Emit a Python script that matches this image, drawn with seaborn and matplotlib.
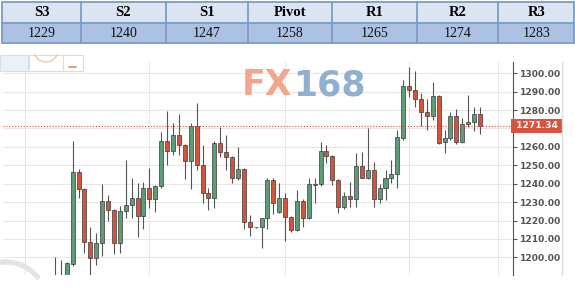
import numpy as np
import pandas as pd
import matplotlib
matplotlib.use("Agg")
import matplotlib.pyplot as plt
import seaborn as sns
from matplotlib.patches import Rectangle, Arc
import matplotlib.transforms as mtransforms

# ---- data ----
levels = ["S3", "S2", "S1", "Pivot", "R1", "R2", "R3"]
level_values = [1229, 1240, 1247, 1258, 1265, 1274, 1283]

opens = [1183, 1186, 1189, 1196.4, 1246.2, 1237, 1208.2, 1199.5, 1208, 1230.6,
         1225.7, 1207.6, 1225, 1228.3, 1232.4, 1222.3, 1237.8, 1231.7, 1238.9, 1263.4,
         1257.9, 1266.5, 1261, 1252.3, 1271.5, 1250.2, 1234.8, 1232.1, 1262, 1257.1,
         1254.3, 1242.9, 1248, 1219.3, 1216.3, 1216.3, 1221.2, 1242, 1224.5, 1232.1,
         1221.7, 1214.8, 1230.8, 1221.5, 1239.3, 1239.7, 1257.8, 1255.1, 1242, 1227.2,
         1233.3, 1231.5, 1249.6, 1243.3, 1247.4, 1231.7, 1237.5, 1242.9, 1245.3, 1265,
         1293.1, 1290.9, 1285.9, 1279.1, 1277, 1287.7, 1262.8, 1264.7, 1276.5, 1262.8,
         1272.4, 1273.4, 1277.9]
highs = [1200.3, 1198.5, 1197.5, 1263.2, 1247.8, 1237.5, 1216.3, 1213.4, 1239.7, 1233.9,
         1226.2, 1227.9, 1252.9, 1242.9, 1240.2, 1240.8, 1248.4, 1239.5, 1267.9, 1279.5,
         1272.8, 1277.7, 1261.5, 1273, 1284, 1261, 1237.7, 1263.2, 1271, 1266.5,
         1255, 1260.1, 1248.5, 1223, 1216.6, 1221.5, 1243.3, 1243.3, 1240.2, 1234.8,
         1222.2, 1236.6, 1231.5, 1242.9, 1242.9, 1262.5, 1261, 1255.5, 1242.3, 1235.7,
         1241.1, 1256.5, 1257.4, 1270.1, 1252, 1240, 1247.4, 1252.9, 1269.2, 1296.4,
         1303.6, 1301.4, 1289.5, 1285.9, 1295.1, 1288, 1269.2, 1278.8, 1280.6, 1275.6,
         1288.2, 1281.5, 1281.5]
lows = [1178, 1180, 1185, 1195.5, 1232.4, 1202.2, 1189, 1195.8, 1200.9, 1219.9,
        1201.6, 1202.2, 1221.5, 1221.2, 1211.2, 1215.4, 1227, 1224.8, 1237.5, 1250.2,
        1255.6, 1255.6, 1242.6, 1237.1, 1247.4, 1229.3, 1225.7, 1226.6, 1254.7, 1247.4,
        1240.2, 1242, 1215.4, 1211.7, 1216.0, 1205.2, 1215.4, 1223.4, 1223.9, 1209,
        1214, 1214.5, 1216.6, 1221, 1229.3, 1239, 1251.1, 1239.3, 1223.9, 1226,
        1227.5, 1227.5, 1243, 1242.5, 1227.2, 1229.5, 1231.1, 1240.4, 1237.6, 1263.5,
        1287.3, 1281.8, 1271.5, 1269.2, 1274.6, 1261.4, 1256.5, 1263.7, 1261.4, 1262,
        1271, 1268.6, 1266.8]
closes = [1186, 1189, 1196.7, 1246.2, 1237, 1208.2, 1199.5, 1208, 1230.6, 1225.7,
          1208, 1225, 1228.3, 1232.4, 1222.3, 1237.8, 1231.7, 1238.9, 1263.4, 1257.9,
          1266.5, 1261, 1252.3, 1271.5, 1250.2, 1234.8, 1232.1, 1262, 1257.1, 1254.3,
          1242.9, 1248, 1219.3, 1216.3, 1216.3, 1221.2, 1242, 1229.3, 1232.1, 1221.7,
          1214.8, 1230.8, 1221.5, 1239.7, 1239.7, 1257.8, 1255.1, 1242, 1227.2, 1233.3,
          1231.5, 1249.6, 1243.3, 1247.4, 1231.7, 1237.5, 1242.9, 1245.3, 1265.2, 1293.1,
          1290.9, 1285.9, 1279.1, 1277, 1287.7, 1262, 1264.7, 1276.5, 1262.5, 1272.4,
          1273.4, 1277.9, 1271.34]
last_price = 1271.34
price_ticks = [1200, 1210, 1220, 1230, 1240, 1250, 1260, 1270, 1280, 1290, 1300]
hidden_tick = 1270          # label covered by the last-price tag in the reference
session_breaks = [-5, 16, 39, 60, 75]
watermark_left = "FX"
watermark_right = "168"

df = pd.DataFrame({"open": opens, "high": highs, "low": lows, "close": closes})
df["idx"] = np.arange(len(df))
df["up"] = df["close"] >= df["open"]

# ---- style ----
sns.set_theme(style="white")
plt.rcParams["font.family"] = ["DejaVu Sans"]

W, H = 575, 288
fig = plt.figure(figsize=(W / 100, H / 100), dpi=100)
fig.patch.set_facecolor("white")

# chart axes in pixel layout
x0, x1, y0, y1 = 3, 513, 62, 275
ax = fig.add_axes([x0 / W, 1 - y1 / H, (x1 - x0) / W, (y1 - y0) / H])
ax.set_facecolor("white")
ax.set_xlim(-8.8, 77.6)
ax.set_ylim(1190.4, 1306.1)

GREEN = "#5e9c78"
RED = "#d4533d"
EDGE = "#3a3a3a"
WICK = "#555555"

ax.vlines(df["idx"], df["low"], df["high"], color=WICK, lw=0.8, zorder=2)
bottoms = np.minimum(df["open"], df["close"])
heights = np.maximum(np.abs(df["close"] - df["open"]), 0.35)
colors = [GREEN if u else RED for u in df["up"]]
ax.bar(df["idx"], heights, bottom=bottoms, width=0.68, color=colors,
       edgecolor=EDGE, linewidth=0.5, zorder=3)

ax.axhline(last_price, color="#c9503f", lw=0.8, ls=(0, (1, 1.6)), zorder=4)

ax.set_yticks(price_ticks)
ax.set_yticklabels(["" if t == hidden_tick else f"{t:.2f}" for t in price_ticks])
ax.set_xticks(session_breaks)
ax.grid(True, color="#e6e6e6", lw=0.8)
ax.set_axisbelow(True)
ax.tick_params(axis="x", length=0, labelbottom=False)
ax.yaxis.tick_right()
ax.tick_params(axis="y", which="both", right=True, left=False, length=3, width=0.8,
               color="#555555", labelcolor="#555555", labelsize=6.6, pad=2)
for lbl in ax.get_yticklabels():
    lbl.set_fontweight("bold")
for s in ["left", "top", "bottom"]:
    ax.spines[s].set_visible(False)
ax.spines["right"].set_color("#555555")
ax.spines["right"].set_linewidth(0.8)

trans = mtransforms.blended_transform_factory(ax.transAxes, ax.transData)
ax.text(1.0, last_price, " 1271.34 ", transform=trans, ha="left", va="center",
        color="white", fontsize=6.6, fontweight="bold", zorder=6,
        bbox=dict(boxstyle="square,pad=0.25", fc="#d9533f", ec="none"))

# ---- overlay (pixel coordinates) ----
ov = fig.add_axes([0, 0, 1, 1], zorder=5)
ov.set_xlim(0, W)
ov.set_ylim(H, 0)
ov.axis("off")

# right border of chart panel
ov.plot([562, 562], [62, 275], color="#dddddd", lw=1.0)

# watermark
ov.text(292, 85, watermark_left, ha="right", va="center", fontsize=25,
        fontweight="bold", color="#f2a68e")
ov.text(293, 85, watermark_right, ha="left", va="center", fontsize=25,
        fontweight="bold", color="#8fb1cf")

# bottom-left faint arc logo
ov.add_patch(Arc((5, 305), 86, 86, theta1=-100, theta2=-38, color="#e4e4e4", lw=3.8))

# toolbar at top-left
ov.add_patch(Rectangle((0, 55), 28, 16, fc="#e9f1fb", ec="#dddddd", lw=0.8))
ov.add_patch(Rectangle((29, 55), 34, 16, fc="white", ec="#dddddd", lw=0.8))
ov.add_patch(Rectangle((63, 55), 20, 16, fc="white", ec="#dddddd", lw=0.8))
ov.add_patch(Arc((46, 50), 24, 24, theta1=20, theta2=160, color="#efc9a8", lw=1.0))
ov.plot([69, 76], [66.5, 66.5], color="#e08a6a", lw=1.2)

# pivot table
col_edges = [2.3, 81, 165.5, 248, 332, 417.3, 498.3, 574]
row_edges = [1.7, 22.7, 43.3]
BORDER = "#7b9bc9"
for r, fc in enumerate(["#dbe5f2", "#abc2e2"]):
    ov.add_patch(Rectangle((col_edges[0], row_edges[r]), col_edges[-1] - col_edges[0],
                           row_edges[r + 1] - row_edges[r], fc=fc, ec="none"))
for xe in col_edges:
    ov.plot([xe, xe], [row_edges[0], row_edges[-1]], color=BORDER, lw=1.3)
for ye in row_edges:
    ov.plot([col_edges[0], col_edges[-1]], [ye, ye], color=BORDER, lw=1.3)
for i, (lab, val) in enumerate(zip(levels, level_values)):
    cx = (col_edges[i] + col_edges[i + 1]) / 2
    ov.text(cx, (row_edges[0] + row_edges[1]) / 2 + 0.5, lab, ha="center", va="center",
            family="Liberation Serif", fontweight="bold", fontsize=10.5, color="black")
    ov.text(cx, (row_edges[1] + row_edges[2]) / 2 + 0.5, str(val), ha="center", va="center",
            family="Liberation Serif", fontsize=10, color="#111111")

fig.savefig("out.png", dpi=100, facecolor="white")
